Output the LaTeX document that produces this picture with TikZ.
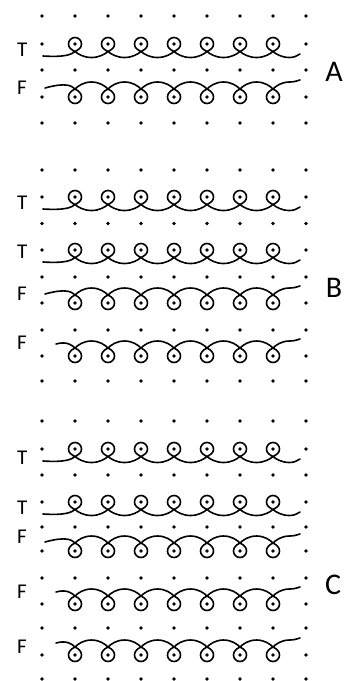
\documentclass[tikz,border=0pt]{standalone}
\usepackage{fontspec}
\setmainfont{Carlito}
\newcommand{\dotrow}[1]{\foreach \xx in {42,75,...,306}{\fill ({\xx},{#1}) circle (1.9pt);}}
\newcommand{\trow}[1]{%
  \draw[stitch] ({43},{#1+12}) \foreach \c in {75,108,...,273}{
    .. controls ({\c-8.5},{#1+13.5}) and ({\c-3},{#1+10}) .. ({\c},{#1+7.5})
    .. controls ({\c+4},{#1+5.5}) and ({\c+6.5},{#1+3.6}) .. ({\c+6.5},{#1})
    .. controls ({\c+6.5},{#1-3.6}) and ({\c+3.6},{#1-6.5}) .. ({\c},{#1-6.5})
    .. controls ({\c-3.6},{#1-6.5}) and ({\c-6.5},{#1-3.6}) .. ({\c-6.5},{#1})
    .. controls ({\c-6.5},{#1+3.6}) and ({\c-4},{#1+5.5}) .. ({\c},{#1+7.5})
    .. controls ({\c+3},{#1+10}) and ({\c+8.5},{#1+13.5}) .. ({\c+16.5},{#1+13.5})
  } .. controls ({294},{#1+13.5}) and ({297},{#1+12}) .. ({300},{#1+10});}
\newcommand{\frow}[3]{%
  \draw[stitch] ({#2},{#1+(#3)}) \foreach \c in {75,108,...,273}{
    .. controls ({\c-8.5},{#1-15}) and ({\c-3},{#1-11}) .. ({\c},{#1-8})
    .. controls ({\c+4},{#1-6}) and ({\c+6.5},{#1-3.6}) .. ({\c+6.5},{#1})
    .. controls ({\c+6.5},{#1+3.6}) and ({\c+3.6},{#1+6.5}) .. ({\c},{#1+6.5})
    .. controls ({\c-3.6},{#1+6.5}) and ({\c-6.5},{#1+3.6}) .. ({\c-6.5},{#1})
    .. controls ({\c-6.5},{#1-3.6}) and ({\c-4},{#1-6}) .. ({\c},{#1-8})
    .. controls ({\c+3},{#1-11}) and ({\c+8.5},{#1-15}) .. ({\c+16.5},{#1-15})
  } .. controls ({294},{#1-15}) and ({297},{#1-16}) .. ({300},{#1-17});}
\begin{document}
\begin{tikzpicture}[x=1pt,y=-1pt,
  stitch/.style={line width=1.6pt, line cap=round, line join=round},
  lab/.style={inner sep=0pt, anchor=west, font=\fontsize{21}{21}\selectfont},
  big/.style={inner sep=0pt, font=\fontsize{30}{30}\selectfont}]
\useasboundingbox (0,0) rectangle (345,681);
% ---------- panel A
\foreach \yy in {16,44,70,97,123}{\dotrow{\yy}}
\trow{44}
\frow{97}{45}{-9}
\node[lab] (tA1) at (17,50) {T};
\node[lab] (fA1) at (17,88) {F};
\node[big] (A) at (334,72) {A};
% ---------- panel B
\foreach \yy in {170,197,223.5,250,277,303,330,356,381}{\dotrow{\yy}}
\trow{197}
\trow{250}
\frow{303}{45}{-9}
\frow{356}{56}{-12}
\node[lab] (tB1) at (17,203) {T};
\node[lab] (tB2) at (17,252) {T};
\node[lab] (fB1) at (17,294) {F};
\node[lab] (fB2) at (17,343) {F};
\node[big] (B) at (334,288) {B};
% ---------- panel C
\foreach \yy in {421,449,475,502,527,551,578,604,628,655,679}{\dotrow{\yy}}
\trow{449}
\trow{502}
\frow{551}{45}{-9}
\frow{604}{56}{-12}
\frow{655}{56}{-12}
\node[lab] (tC1) at (17,458) {T};
\node[lab] (tC2) at (17,508) {T};
\node[lab] (fC1) at (17,537) {F};
\node[lab] (fC2) at (17,592) {F};
\node[lab] (fC3) at (17,647) {F};
\node[big] (C) at (333,585) {C};
\end{tikzpicture}
\end{document}
